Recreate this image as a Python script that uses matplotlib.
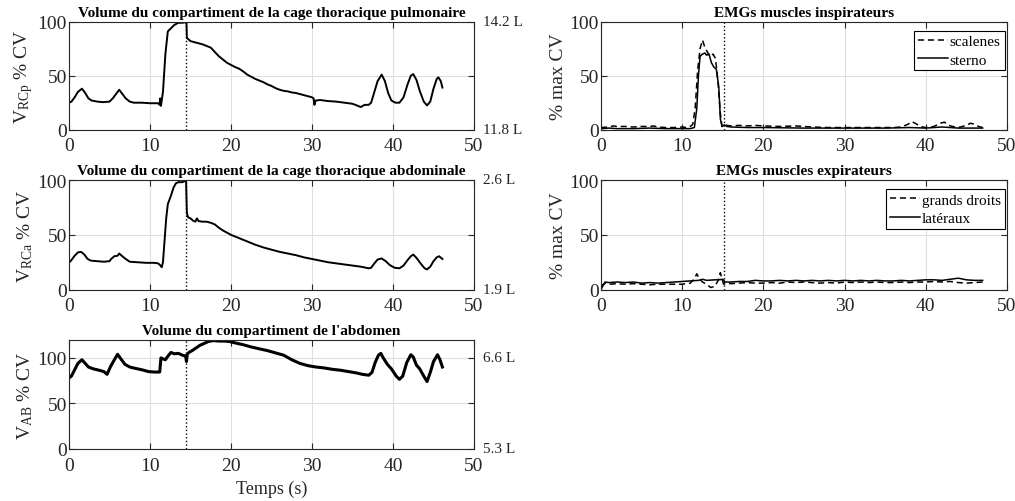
import matplotlib
matplotlib.use("Agg")
import matplotlib.pyplot as plt
from matplotlib.lines import Line2D

plt.rcParams['font.family'] = ['Liberation Serif', 'DejaVu Serif']
plt.rcParams['mathtext.fontset'] = 'custom'
plt.rcParams['mathtext.rm'] = 'Liberation Serif'
plt.rcParams['mathtext.it'] = 'Liberation Serif:italic'

# ---------------- data ----------------
t_rcp = [0, 0.3, 0.7, 1.1, 1.6, 2.0, 2.4, 2.8, 3.5, 4.2, 5.0, 5.4, 5.8, 6.2, 6.6, 7.0, 7.5, 8, 9, 10, 11,
         11.2, 11.25, 11.35, 11.6, 11.9, 12.2, 12.6, 13.0, 13.5, 14.0, 14.4, 14.5, 14.55, 15, 15.5, 16, 16.5,
         17.0, 17.5, 18, 18.5, 19, 19.5, 20, 20.5, 21, 21.5, 22, 22.5, 23, 23.5, 24, 24.5, 25, 25.5, 26, 26.5,
         27, 27.5, 28, 28.5, 29, 29.5, 30, 30.2, 30.3, 30.45, 31, 32, 33, 34, 35, 35.7, 36, 36.5, 37, 37.3,
         37.7, 38.1, 38.6, 39.0, 39.4, 39.8, 40.3, 40.8, 41.3, 41.8, 42.2, 42.5, 42.9, 43.3, 43.8, 44.2, 44.6,
         45.0, 45.4, 45.6, 45.9, 46.1]
v_rcp = [25, 26, 30, 35, 38, 34, 29, 27, 26, 25.5, 26, 29, 33, 37, 33, 29, 26, 25, 25, 24.5, 24.5,
         23, 29, 22, 35, 70, 91, 94, 97, 99, 99, 99.5, 100, 85, 82, 81, 80, 79,
         77.5, 76, 72, 68, 65, 62, 60, 58, 56.5, 54, 51, 49, 47, 45.5, 44, 42, 40.5, 38.5, 37, 36,
         35.5, 34.5, 34, 33, 32, 31, 30, 29, 23, 27, 27.5, 26.5, 26, 25, 24, 22, 21, 23, 23, 25,
         35, 45, 51, 45, 34, 27, 25, 25, 30, 42, 50, 51.5, 46, 36, 26, 22.5, 26,
         38, 47, 48.5, 45, 39]

t_rca = [0, 0.3, 0.7, 1.1, 1.5, 1.9, 2.3, 2.7, 3.5, 4.3, 5.0, 5.2, 5.6, 6.0, 6.2, 6.5, 7.0, 7.5, 8.5, 9.5,
         10.5, 11.0, 11.3, 11.45, 11.6, 11.8, 12.0, 12.2, 12.6, 12.9, 13.2, 13.5, 14.0, 14.3, 14.45, 14.55,
         14.7, 15.0, 15.3, 15.6, 15.8, 16.0, 16.5, 17.0, 17.5, 18.0, 18.5, 19.0, 19.5, 20.0, 21, 22, 23, 24,
         25, 26, 27, 28, 29, 30, 31, 32, 33, 34, 35, 36, 37, 37.3, 37.7, 38.1, 38.6, 39.1, 39.6, 40.2, 40.8,
         41.3, 41.8, 42.2, 42.5, 42.9, 43.4, 43.9, 44.2, 44.6, 45.0, 45.4, 45.7, 46.1]
v_rca = [24.5, 27, 31, 34, 34.5, 32, 28, 26.5, 26, 25.5, 26, 28, 30.5, 31, 33, 31, 28, 25.5, 25, 24.5,
         24.5, 24, 22, 20.5, 25, 45, 65, 78, 86, 93, 97, 98, 98, 99, 100, 70,
         66, 65, 63, 62, 65, 62.5, 62, 62, 61, 59.5, 56.5, 54, 52, 50, 47, 44, 41, 38.5,
         36.5, 34.5, 33, 31.5, 29.5, 28, 26.5, 25, 24, 23, 22, 21, 19.5, 20, 24, 27.5, 28.5, 26, 22.5, 20, 19.5,
         22, 27, 30.5, 32, 29, 24, 19.5, 18.5, 21, 26, 29.5, 30.5, 28]

t_ab = [0, 0.3, 0.7, 1.1, 1.6, 2.0, 2.4, 3.0, 3.7, 4.3, 4.7, 5.1, 5.6, 6.0, 6.4, 6.9, 7.5, 8.2, 9.0, 9.8,
        10.5, 11.2, 11.35, 11.6, 11.9, 12.3, 12.6, 13.0, 13.5, 14.0, 14.4, 14.5, 14.6, 14.8, 15.2, 15.7,
        16.2, 16.7, 17.2, 17.8, 18.5, 19.2, 19.8, 20.5, 21.5, 22.5, 23.5, 24.5, 25.5, 26.5, 27.5, 28.5,
        29.5, 30.5, 31.5, 32.5, 33.5, 34.5, 35.5, 36.2, 37.0, 37.4, 37.8, 38.2, 38.5, 38.8, 39.3, 39.8,
        40.4, 40.8, 41.2, 41.7, 42.2, 42.5, 42.9, 43.3, 43.8, 44.2, 44.6, 45.0, 45.5, 45.8, 46.1]
v_ab = [78, 80, 87, 94, 98, 94, 90, 88, 86.5, 85, 82, 90, 98, 104, 99, 93, 90, 88.5, 87, 85,
        84.5, 84.5, 100, 99, 98, 103, 106, 104.5, 105, 103, 102, 96, 104, 106, 108, 111,
        114, 116, 118, 119, 118.5, 118.5, 118, 116.5, 114.5, 112, 110, 108, 105.5, 103, 98, 94,
        91.5, 90, 89, 87.5, 86.5, 85, 83.5, 82, 81, 84, 95, 103, 105, 100, 93, 88,
        80, 76.5, 80, 95, 103.5, 101, 92, 88, 80, 74, 84, 96, 103.5, 98, 90]

t_scal = [0, 1, 1.5, 2, 3, 4, 5, 6, 6.5, 7, 8, 9, 10, 10.5, 11, 11.3, 11.6, 11.9, 12.2, 12.5, 12.8, 13.1,
          13.4, 13.8, 14.1, 14.4, 14.7, 14.9, 15.2, 15.5, 16, 17, 18, 19, 20, 22, 24, 26, 28, 30, 32, 34, 36,
          37, 37.8, 38.3, 38.8, 39.3, 40, 41, 41.8, 42.3, 42.8, 43.3, 44, 45, 45.5, 46, 46.5, 47]
v_scal = [2, 2.5, 3.5, 3, 3, 2.5, 3, 3, 3.5, 2.5, 2, 2, 2.5, 2, 3, 5, 20, 55, 75, 83, 76, 72,
          68, 70, 66, 45, 15, 3, 5, 4, 3.5, 4, 3.5, 4, 3.5, 3, 3.5, 2.5, 2, 2, 2, 2, 2,
          2.5, 5, 7.5, 5.5, 3, 2, 3, 6, 7, 4, 3, 2, 4, 6, 5, 3, 2]

t_ster = [0, 1, 2, 4, 6, 8, 10, 11, 11.5, 11.8, 12.0, 12.2, 12.5, 12.8, 13.0, 13.3, 13.6, 13.9, 14.2, 14.5,
          14.7, 14.9, 15.2, 15.5, 16, 18, 20, 25, 30, 35, 38, 40, 42, 44, 46, 47]
v_ster = [1, 1.5, 1, 1, 1.5, 1, 1, 1, 2, 20, 50, 68, 70, 71, 69, 70, 62, 58, 56, 40,
          10, 3, 4.5, 3, 2.5, 2, 2, 1.5, 1.5, 1.5, 2, 1.5, 2.5, 1.5, 1.5, 1.5]

t_gd = [0, 0.3, 0.6, 1, 2, 3, 4, 5, 6, 7, 8, 9, 10, 10.5, 11, 11.5, 11.8, 12.1, 12.5, 13, 13.5, 14, 14.4,
        14.7, 14.9, 15.1, 15.5, 16, 17, 18, 19, 20, 21, 22, 23, 24, 25, 26, 27, 28, 29, 30, 31, 32, 33, 34,
        35, 36, 37, 38, 39, 40, 41, 42, 43, 44, 45, 46, 47]
v_gd = [3, 5, 6, 5, 5.5, 5, 5.5, 5, 4.5, 5, 5, 5, 5, 5.5, 6, 10, 14.5, 10, 7, 5, 2, 3, 8,
        15.5, 10, 5, 6, 5.5, 6, 6.5, 6, 6, 6.5, 6, 7, 6.5, 7, 6.5, 6, 6.5, 6, 7, 6.5, 7, 6.5, 7,
        6.5, 6.5, 7, 6.5, 7, 7, 7.5, 7, 7.5, 6.5, 6, 6.5, 7]

t_lat = [0, 0.2, 0.5, 1, 2, 3, 4, 5, 6, 7, 8, 9, 10, 11, 12, 12.5, 13, 14, 14.5, 15, 15.3, 16, 17, 18,
         19, 20, 21, 22, 23, 24, 25, 26, 27, 28, 29, 30, 31, 32, 33, 34, 35, 36, 37, 38, 39, 40, 41, 42,
         43, 44, 45, 46, 47]
v_lat = [0, 3, 7, 6.5, 7, 6.5, 7, 6, 6.5, 6, 6.5, 7, 7.5, 8, 8.5, 9.5, 8.5, 9, 9, 9.5, 7, 7, 7.5, 7.5,
         8.5, 8, 8, 8.5, 8, 8.5, 8, 8.5, 8, 8.5, 8, 8.5, 8, 8.5, 8, 8.5, 8, 8, 8.5, 8, 8.5, 9, 9, 8.5,
         9.5, 10.5, 9, 8.5, 8.5]

marker_left = 14.5
marker_right = 15.1

titles_left = ["Volume du compartiment de la cage thoracique pulmonaire",
               "Volume du compartiment de la cage thoracique abdominale",
               "Volume du compartiment de l'abdomen"]
ylabels_left = [r"V$_{\mathrm{RCp}}$ % CV", r"V$_{\mathrm{RCa}}$ % CV", r"V$_{\mathrm{AB}}$ % CV"]
right_labels = [("14.2 L", "11.8 L"), ("2.6 L", "1.9 L"), ("6.6 L", "5.3 L")]
titles_right = ["EMGs muscles inspirateurs", "EMGs muscles expirateurs"]
legend_right = [("scalenes", "sterno"), ("grands droits", "latéraux")]
xticks = [0, 10, 20, 30, 40, 50]
yticks = [0, 50, 100]

# ---------------- figure ----------------
W, H = 1015, 502
fig = plt.figure(figsize=(W / 100, H / 100), dpi=100)

GRAY = '#262626'


def px_axes(x0, y0, x1, y1):
    return fig.add_axes([x0 / W, 1 - y1 / H, (x1 - x0) / W, (y1 - y0) / H])


def style(ax, ymax):
    ax.set_xlim(0, 50)
    ax.set_ylim(0, ymax)
    ax.set_xticks(xticks)
    ax.set_yticks(yticks)
    ax.grid(True, color='#dfdfdf', linewidth=0.8)
    ax.set_axisbelow(True)
    ax.tick_params(direction='in', length=4, width=0.8, colors=GRAY, labelsize=14,
                   top=True, right=True, labelcolor=GRAY)
    ax.tick_params(axis='x', pad=5.5)
    ax.tick_params(axis='y', pad=1.5)
    for s in ax.spines.values():
        s.set_color(GRAY)
        s.set_linewidth(0.8)


rows = [(22.7, 130.7), (181, 290.7), (340.7, 450)]
left_x = (69, 474)
right_x = (601, 1007)

left_data = [(t_rcp, v_rcp, 1.4, 100), (t_rca, v_rca, 1.4, 100), (t_ab, v_ab, 2.2, 120)]
for i, (tt, vv, lw, ymax) in enumerate(left_data):
    ax = px_axes(left_x[0], rows[i][0], left_x[1], rows[i][1])
    style(ax, ymax)
    ax.plot(tt, vv, color='black', lw=lw, solid_joinstyle='round')
    ax.axvline(marker_left, color='black', ls=':', lw=1.0)
    ax.set_title(titles_left[i], fontsize=11, fontweight='bold', pad=4)
    ax.set_ylabel(ylabels_left[i], fontsize=14, color=GRAY, labelpad=2)
    top_lab, bot_lab = right_labels[i]
    tr = ax.get_yaxis_transform()
    ax.text(1.021, 100, top_lab, transform=tr, fontsize=11, color=GRAY, va='center', ha='left')
    ax.text(1.021, 0, bot_lab, transform=tr, fontsize=11, color=GRAY, va='center', ha='left')
    if i == 2:
        ax.set_xlabel("Temps (s)", fontsize=13, color=GRAY, labelpad=4.5)

right_data = [((t_scal, v_scal), (t_ster, v_ster)), ((t_gd, v_gd), (t_lat, v_lat))]
for i, ((ta, va), (tb, vb)) in enumerate(right_data):
    ax = px_axes(right_x[0], rows[i][0], right_x[1], rows[i][1])
    style(ax, 100)
    ax.plot(ta, va, color='black', lw=1.1, ls=(0, (4, 2.5)))
    ax.plot(tb, vb, color='black', lw=1.1)
    ax.axvline(marker_right, color='black', ls=':', lw=1.0)
    ax.set_title(titles_right[i], fontsize=11, fontweight='bold', pad=4)
    ax.set_ylabel("% max CV", fontsize=14, color=GRAY, labelpad=2)
    handles = [Line2D([], [], color='black', lw=1.1, ls=(0, (4, 2.5))),
               Line2D([], [], color='black', lw=1.1)]
    leg = ax.legend(handles, legend_right[i], loc='upper right', bbox_to_anchor=(0.994, 0.915),
                    borderaxespad=0, fontsize=11, frameon=True, fancybox=False,
                    edgecolor='black', framealpha=1, handlelength=2.0, handletextpad=0.1,
                    labelspacing=0.3, borderpad=0.25)
    leg.get_frame().set_linewidth(0.8)

fig.savefig("out.png", dpi=100)
